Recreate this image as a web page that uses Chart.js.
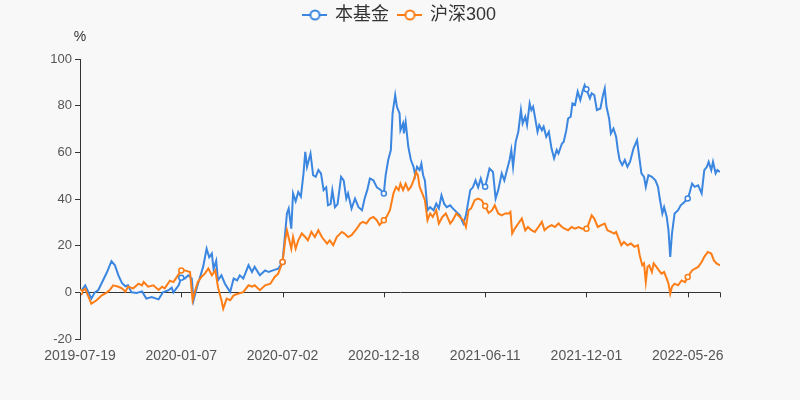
<!DOCTYPE html>
<html>
<head>
<meta charset="utf-8">
<script src="https://cdn.jsdelivr.net/npm/chart.js@4.4.0/dist/chart.umd.min.js"></script>
<style>
  html, body { margin: 0; padding: 0; background: #f8f8f8; }
  #wrap { width: 800px; height: 400px; }
</style>
</head>
<body>
<div id="wrap"><canvas id="chart"></canvas></div>
<script>
const seriesNames = ["本基金", "沪深300"];
const tickLabels = ["2019-07-19", "2020-01-07", "2020-07-02", "2020-12-18", "2021-06-11", "2021-12-01", "2022-05-26"];
const tickIdx = [0, 116, 232, 348, 464, 580, 696]; // trading-day index of each label
const lastIdx = 733;

// 本基金 (trading-day index, cumulative return %)
const fundDays = [0, 6, 13, 17, 21, 31, 36, 40, 42, 44, 48, 52, 55, 59, 65, 71, 76, 82, 90, 95, 101, 105, 107, 113, 116,
  120, 124, 128, 130, 134, 137, 141, 145, 148, 151, 153, 156, 158, 162, 166, 172, 176, 180, 183, 187, 193, 197, 200, 206,
  212, 216, 221, 227, 232, 237, 239, 242, 244, 247, 250, 253, 256, 258, 260, 264, 267, 270, 273, 276, 279, 282, 284, 287,
  289, 292, 295, 299, 302, 305, 307, 311, 315, 319, 323, 326, 329, 332, 336, 340, 344, 348, 350, 353, 356, 358, 361, 363,
  366, 367, 370, 371, 373, 376, 379, 382, 384, 386, 389, 391, 393, 395, 398, 401, 405, 408, 411, 414, 417, 420, 424, 427,
  431, 435, 439, 442, 445, 447, 450, 453, 456, 459, 462, 464, 469, 473, 476, 479, 483, 486, 489, 492, 494, 496, 499, 502,
  505, 507, 510, 512, 515, 517, 519, 521, 524, 526, 529, 531, 534, 537, 540, 543, 546, 548, 552, 554, 557, 559, 562, 564,
  567, 570, 573, 576, 578, 580, 584, 586, 589, 592, 596, 599, 601, 603, 606, 608, 611, 614, 616, 618, 621, 624, 627, 630,
  634, 638, 640, 643, 646, 648, 651, 655, 659, 662, 664, 667, 669, 672, 674, 676, 678, 681, 685, 688, 692, 696, 698, 701,
  704, 708, 712, 715, 718, 720, 723, 725, 728, 730, 733];
const fundValues = [0, 3, -2.7, 0, 1, 8.7, 13.4, 11.6, 9.4, 7.3, 4, 2.6, 3, 0, -0.3, 0.4, -2.7, -2, -3, 0, 0.8, 2, 0, 3, 6.3,
  5.9, 7.3, 5.9, -3.4, 2.3, 5.9, 10.9, 18.7, 15, 16.6, 10, 13.5, 5.1, 7.3, 3.7, 0.1, 5.9, 5.1, 7.3, 5.9, 11.6, 8.7, 10.9, 7.3,
  9.4, 8.7, 9.4, 10.1, 13, 33.8, 35.9, 27.3, 42.4, 39, 43, 41, 51, 60.2, 53.8, 59.5, 50.2, 49.5, 52.4, 51, 43.8, 45, 37.3, 37.8,
  43.8, 36.5, 37.8, 49.5, 48, 40.2, 42.4, 35.9, 40.2, 36.5, 35.2, 40.2, 43.8, 48.8, 48, 45, 44, 42.4, 50, 56.7, 61, 76.7, 84.5, 79.5,
  76.7, 69.5, 72.4, 68.1, 73, 62.4, 56.7, 53.8, 50.2, 53.8, 52.4, 55.2, 50.2, 48, 35.2, 36.5, 35.2, 38, 36, 41.6, 38, 36.5, 37.3, 36,
  34.5, 33, 29.5, 33, 39.5, 43.8, 45, 48, 45, 48.8, 45, 45.2, 53.1, 51.6, 40.2, 43.8, 51, 48, 52.4, 56.7, 61, 53.8, 64.5, 68.8,
  78.1, 72.4, 75.3, 71.7, 81, 78.1, 79.5, 75.3, 68.8, 71.7, 69.5, 71, 66.7, 68.8, 61.7, 57.4, 61, 59.5, 63.8, 64.5, 69.5, 74.5, 75.3, 81,
  80.3, 86, 82.4, 86.7, 88.8, 87, 83.1, 85.3, 84.5, 78.1, 78.8, 84.5, 87.4, 79.5, 74.5, 68.1, 70.2, 66.7, 61, 56.7, 54.5, 56.7, 53.8, 56,
  61.7, 65.2, 59.5, 51, 49.5, 45.2, 50.2, 49.5, 48, 45.2, 40.2, 33.8, 36.5, 32.3, 26.6, 15.2, 25.2, 33.8, 35.2, 37.3, 38.6, 40.2, 42.4, 46.6,
  45.2, 45.9, 42.4, 52.4, 53.8, 55.9, 52.4, 55.9, 51, 52.4, 51.6];

// 沪深300 (trading-day index, cumulative return %)
const indexDays = [0, 6, 13, 19, 25, 31, 34, 38, 44, 48, 52, 55, 61, 67, 71, 73, 78, 84, 90, 94, 97, 103, 107, 111, 116,
  120, 126, 129, 132, 135, 139, 143, 147, 151, 155, 158, 162, 164, 168, 172, 176, 181, 187, 193, 197, 200, 206, 212, 218,
  223, 227, 232, 235, 237, 242, 244, 247, 250, 254, 258, 261, 265, 269, 273, 277, 283, 286, 290, 294, 300, 303, 307, 311,
  317, 321, 324, 328, 332, 336, 340, 343, 348, 351, 355, 359, 362, 365, 367, 370, 373, 376, 379, 382, 385, 387, 389, 392,
  395, 398, 401, 404, 408, 411, 415, 419, 424, 427, 431, 435, 439, 442, 445, 448, 452, 456, 460, 464, 468, 472, 475, 479,
  483, 487, 491, 493, 495, 498, 502, 506, 510, 513, 517, 521, 525, 529, 532, 536, 540, 544, 548, 552, 555, 559, 563, 567,
  571, 575, 580, 582, 586, 589, 593, 597, 601, 604, 608, 612, 614, 617, 620, 623, 627, 631, 635, 639, 641, 644, 646, 648,
  650, 652, 655, 657, 660, 663, 666, 669, 672, 674, 676, 678, 681, 685, 689, 693, 696, 701, 704, 708, 712, 715, 719, 723,
  726, 729, 733];
const indexValues = [0, 1.5, -4.9, -3.4, -1.3, 0, 1, 3, 2.4, 1.7, 0.3, 2.4, 1.7, 3.7, 3, 4.4, 2.4, 3, 1, 2.4, 1.7, 5, 4.4, 6.6, 9.4,
  9.4, 8.7, -3.4, 0.9, 4.4, 6.6, 8, 10.2, 7.3, 9.4, 2.3, -3.4, -7, -2.7, -3.4, -1.3, -0.6, 0.1, 3, 2.4, 3, 0.9, 3, 3.7,
  6.6, 8, 13, 22.3, 26.6, 18.7, 23.7, 18.7, 22.3, 25.2, 23.7, 22.3, 25.9, 23.7, 26.6, 23.7, 20.9, 22.3, 20.2, 23.7, 25.9, 25.2, 23.7, 24.5,
  27.3, 29.5, 30.2, 29.5, 31.6, 32.3, 30.9, 28.8, 30.9, 32.3, 35.2, 42.4, 45.2, 43.8, 46.6, 43.8, 46.6, 43.8, 45.2, 48, 51.6, 50.2, 45.2, 42.4,
  39.5, 30.9, 33.8, 32.3, 35.2, 29.5, 32.3, 33.8, 29.5, 30.9, 33.8, 32.3, 30.9, 28, 35.2, 36, 39.5, 40.2, 39.5, 37, 34, 35.2, 37.3, 33.8,
  33, 33.8, 33.8, 34.5, 25.2, 27.3, 29.5, 31.6, 26.6, 28, 26.6, 25.9, 28, 30.2, 26.6, 28, 28.8, 28, 29.5, 28, 27.3, 26.6, 28, 27.3,
  28, 27.3, 27.3, 28.8, 33, 31.6, 28, 28.8, 29.5, 26.6, 25.9, 25.2, 25.9, 23, 20.2, 21.6, 20.2, 20.9, 19.5, 20.2, 15.9, 11.6, 12.4, 4.4,
  11, 11.6, 8.7, 12.4, 11, 9.4, 8, 8.7, 5.9, 3.7, -0.6, 2.4, 3.7, 3, 5.1, 4.4, 6.6, 9.4, 10.1, 10.9, 13, 15.2, 17.3, 16.6,
  13.7, 12.4, 11.6];

const blue = '#3a86e0';
const orange = '#fd7d17';

function toPoints(days, values) {
    return days.map((d, i) => ({ x: d, y: values[i] }));
}

// legend icon: short line with a hollow circle, like the original
function legendIcon(color) {
    const c = document.createElement('canvas');
    c.width = 25; c.height = 14;
    const g = c.getContext('2d');
    g.strokeStyle = color;
    g.lineWidth = 2;
    g.beginPath(); g.moveTo(0, 7); g.lineTo(25, 7); g.stroke();
    g.fillStyle = '#ffffff';
    g.beginPath(); g.arc(12.5, 7, 4.5, 0, Math.PI * 2); g.fill(); g.stroke();
    return c;
}
const icons = [legendIcon(blue), legendIcon(orange)];

// markers only on labelled days
const markerRadius = ctx => (ctx.raw && tickIdx.includes(ctx.raw.x)) ? 2.5 : 0;

const extras = {
    id: 'extras',
    beforeInit(chart) {
        const fit = chart.legend.fit;
        chart.legend.fit = function () {
            fit.bind(chart.legend)();
            this.height += 25;
        };
    },
    afterDraw(chart) {
        const { ctx, scales: { x, y } } = chart;
        const y0 = y.getPixelForValue(0);
        ctx.save();
        ctx.strokeStyle = '#333';
        ctx.lineWidth = 1;
        tickIdx.concat([lastIdx]).forEach(v => {
            const px = Math.round(x.getPixelForValue(v)) + 0.5;
            ctx.beginPath(); ctx.moveTo(px, y0); ctx.lineTo(px, y0 + 5); ctx.stroke();
        });
        ctx.fillStyle = '#333';
        ctx.font = '14px "Liberation Sans", Arial, sans-serif';
        ctx.textAlign = 'center';
        ctx.textBaseline = 'middle';
        ctx.fillText('%', y.right, y.top - 22);
        ctx.restore();
    }
};

new Chart(document.getElementById('chart'), {
    type: 'line',
    data: {
        datasets: [{
            label: seriesNames[0],
            data: toPoints(fundDays, fundValues),
            borderColor: blue,
            backgroundColor: '#ffffff',
            borderWidth: 2,
            pointRadius: markerRadius,
            pointBorderWidth: 1.5,
            pointBorderColor: blue,
            pointBackgroundColor: '#ffffff',
            tension: 0,
            order: 1
        }, {
            label: seriesNames[1],
            data: toPoints(indexDays, indexValues),
            borderColor: orange,
            backgroundColor: '#ffffff',
            borderWidth: 2,
            pointRadius: markerRadius,
            pointBorderWidth: 1.5,
            pointBorderColor: orange,
            pointBackgroundColor: '#ffffff',
            tension: 0,
            order: 0
        }]
    },
    options: {
        responsive: true,
        maintainAspectRatio: false,
        animation: false,
        layout: { padding: { top: -4, right: 0, bottom: 0, left: 0 } },
        plugins: {
            tooltip: { enabled: false },
            legend: {
                position: 'top',
                labels: {
                    usePointStyle: true,
                    pointStyleWidth: 22,
                    padding: 10,
                    color: '#333',
                    font: { size: 18, family: '"Liberation Sans", Arial, "Noto Sans CJK SC", sans-serif' },
                    sort: (a, b) => a.datasetIndex - b.datasetIndex,
                    generateLabels(chart) {
                        const items = Chart.defaults.plugins.legend.labels.generateLabels(chart);
                        items.forEach(it => { it.pointStyle = icons[it.datasetIndex]; });
                        return items;
                    }
                }
            }
        },
        scales: {
            x: {
                type: 'linear',
                min: 0,
                max: lastIdx,
                grid: { display: false },
                border: { display: false },
                afterBuildTicks: scale => { scale.ticks = tickIdx.map(v => ({ value: v })); },
                afterFit: scale => { scale.height = 61; },
                ticks: {
                    autoSkip: false,
                    maxRotation: 0,
                    padding: 1,
                    color: '#555',
                    font: { size: 14, family: '"Liberation Sans", Arial, sans-serif' },
                    callback: v => tickLabels[tickIdx.indexOf(v)]
                }
            },
            y: {
                min: -20,
                max: 100,
                afterFit: scale => { scale.width = 80; },
                border: { display: true, color: '#333', width: 1 },
                grid: {
                    color: c => c.tick && c.tick.value === 0 ? '#333' : 'rgba(0,0,0,0)',
                    tickColor: '#333',
                    tickLength: 5,
                    lineWidth: 1
                },
                ticks: {
                    stepSize: 20,
                    padding: 3,
                    color: '#555',
                    font: { size: 13, family: '"Liberation Sans", Arial, sans-serif' }
                }
            },
            // empty right-hand margin, keeps the legend centred on the page
            yRight: {
                type: 'linear',
                position: 'right',
                min: -20,
                max: 100,
                grid: { display: false },
                border: { display: false },
                ticks: { display: false },
                afterFit: scale => { scale.width = 80; }
            }
        }
    },
    plugins: [extras]
});
</script>
</body>
</html>
